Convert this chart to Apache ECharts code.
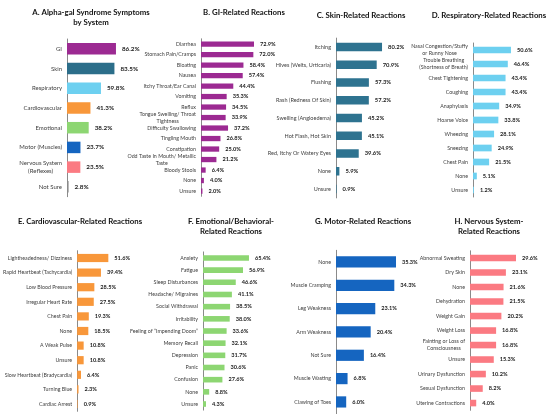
<!DOCTYPE html>
<html><head><meta charset="utf-8">
<script src="https://cdn.jsdelivr.net/npm/echarts@6/dist/echarts.min.js"></script>
<style>html,body{margin:0;padding:0;background:#fff}#c{width:550px;height:416px}</style>
</head><body><div id="c"></div>
<script>
// Panel A
const catA = ['GI','Skin','Respiratory','Cardiovascular','Emotional','Motor (Muscles)','Nervous System\n(Reflexes)','Not Sure'];
const valA = [86.2,83.5,59.8,41.3,38.2,23.7,23.5,2.8];
const colA = ['#9C2A92','#2C6E8A','#6DD0F0','#F8973A','#8DD672','#1565C0','#FB7A82','#8A8A8A'];
// Panel B
const catB = ['Diarrhea','Stomach Pain/Cramps','Bloating','Nausea','Itchy Throat/Ear Canal','Vomiting','Reflux','Tongue Swelling/ Throat\nTightness','Difficulty Swallowing','Tingling Mouth','Constipation','Odd Taste In Mouth/ Metallic\nTaste','Bloody Stools','None','Unsure'];
const valB = [72.9,72.0,58.4,57.4,44.4,35.3,34.5,33.9,37.2,26.8,25.0,21.2,6.4,4.0,2.0];
// Panel C
const catC = ['Itching','Hives (Welts, Urticaria)','Flushing','Rash (Redness Of Skin)','Swelling (Angioedema)','Hot Flash, Hot Skin','Red, Itchy Or Watery Eyes','None','Unsure'];
const valC = [80.2,70.9,57.3,57.2,45.2,45.1,39.6,5.9,0.9];
// Panel D
const catD = ['Nasal Congestion/Stuffy\nor Runny Nose','Trouble Breathing\n(Shortness of Breath)','Chest Tightening','Coughing','Anaphylaxis','Hoarse Voice','Wheezing','Sneezing','Chest Pain','None','Unsure'];
const valD = [50.6,46.4,43.4,43.4,34.9,33.8,28.1,24.9,21.5,5.1,1.2];
// Panel E
const catE = ['Lightheadedness/ Dizziness','Rapid Heartbeat (Tachycardia)','Low Blood Pressure','Irregular Heart Rate','Chest Pain','None','A Weak Pulse','Unsure','Slow Heartbeat (Bradycardia)','Turning Blue','Cardiac Arrest'];
const valE = [51.6,39.4,28.5,27.5,19.3,18.5,10.8,10.8,6.4,2.3,0.9];
// Panel F
const catF = ['Anxiety','Fatigue','Sleep Disturbances','Headache/ Migraines','Social Withdrawal','Irritability','Feeling of \u201cImpending Doom\u201d','Memory Recall','Depression','Panic','Confusion','None','Unsure'];
const valF = [65.4,56.9,46.6,41.1,38.5,38.0,33.6,32.1,31.7,30.6,27.6,8.8,4.3];
// Panel G
const catG = ['None','Muscle Cramping','Leg Weakness','Arm Weakness','Not Sure','Muscle Wasting','Clawing of Toes'];
const valG = [35.3,34.3,23.1,20.4,16.4,6.8,6.0];
// Panel H
const catH = ['Abnormal Sweating','Dry Skin','None','Dehydration','Weight Gain','Weight Loss','Fainting or Loss of\nConsciousness','Unsure','Urinary Dysfunction','Sexual Dysfunction','Uterine Contractions'];
const valH = [29.6,23.1,21.6,21.5,20.2,16.8,16.8,15.3,10.2,8.2,4.0];

const titles = [
  {text:'A. Alpha-gal Syndrome Symptoms\nby System', x:86, y:3},
  {text:'B. GI-Related Reactions', x:239, y:3},
  {text:'C. Skin-Related Reactions', x:356, y:6},
  {text:'D. Respiratory-Related Reactions', x:484, y:6},
  {text:'E. Cardiovascular-Related Reactions', x:75, y:212},
  {text:'F. Emotional/Behavioral-\nRelated Reactions', x:226, y:212},
  {text:'G. Motor-Related Reactions', x:358, y:212},
  {text:'H. Nervous System-\nRelated Reactions', x:484, y:212}
];

// layout: left (axis x), top, height, max, scale(px per %), bar width, color
const panels = [
  {cat:catA, val:valA, color:colA, left:67, top:39, height:157.7, max:100, scale:0.568, bw:11.5, fs:6},
  {cat:catB, val:valB, color:'#9C2A92', left:201, top:38.8, height:157.5, max:100, scale:0.727, bw:5.3, fs:5.3},
  {cat:catC, val:valC, color:'#2E7390', left:336, top:38.1, height:159.8, max:100, scale:0.574, bw:8.5, fs:5.5},
  {cat:catD, val:valD, color:'#6DD0F0', left:473, top:43, height:154, max:70, scale:0.75, bw:6.7, fs:5.3},
  {cat:catE, val:valE, color:'#F8973A', left:72, top:250.7, height:160.6, max:70, scale:0.678, bw:8.2, fs:5.3},
  {cat:catF, val:valF, color:'#8DD672', left:203, top:251.9, height:158.2, max:80, scale:0.703, bw:5.6, fs:5.3},
  {cat:catG, val:valG, color:'#1565C0', left:336, top:250.3, height:163.3, max:50, scale:1.70, bw:11.2, fs:5.3},
  {cat:catH, val:valH, color:'#FB7A82', left:470, top:250.8, height:159.5, max:50, scale:1.554, bw:6.6, fs:5.3}
];

const FONT = 'Lato, "Noto Sans", sans-serif';
const grid=[], xAxis=[], yAxis=[], series=[];
panels.forEach((p,i)=>{
  grid.push({left:p.left, top:p.top, height:p.height, width:p.max*p.scale, containLabel:false});
  xAxis.push({type:'value', gridIndex:i, min:0, max:p.max, show:false});
  yAxis.push({type:'category', gridIndex:i, data:p.cat, inverse:true,
    axisLine:{show:true, lineStyle:{color:'#8a8a8a', width:1}},
    axisTick:{show:false}, splitLine:{show:false},
    axisLabel:{margin:5, fontFamily:FONT, fontSize:p.fs, color:'#404040', lineHeight:p.fs+1.5,
      formatter:(v)=>v.split('\n').map(s=>'{c|'+s+'}').join('\n'),
      rich:{c:{align:'center', fontFamily:FONT, fontSize:p.fs, color:'#404040', lineHeight:p.fs+1.5}}}
  });
  series.push({type:'bar', xAxisIndex:i, yAxisIndex:i, barWidth:p.bw,
    data:p.val.map((v,j)=>({value:v, itemStyle:{color:Array.isArray(p.color)?p.color[j]:p.color}})),
    label:{show:true, position:'right', distance:6, fontFamily:FONT, fontWeight:'bold', fontSize:p.fs+0.3, color:'#222',
      formatter:(d)=>d.value.toFixed(1)+'%'},
    silent:true, animation:false});
});

const chart = echarts.init(document.getElementById('c'));
chart.setOption({
  animation:false,
  title: titles.map(t=>({text:t.text, left:t.x, top:t.y, textAlign:'center',
    textStyle:{fontFamily:FONT, fontWeight:'bold', fontSize:7.8, color:'#111', lineHeight:9.5}})),
  grid, xAxis, yAxis, series
});
</script></body></html>
